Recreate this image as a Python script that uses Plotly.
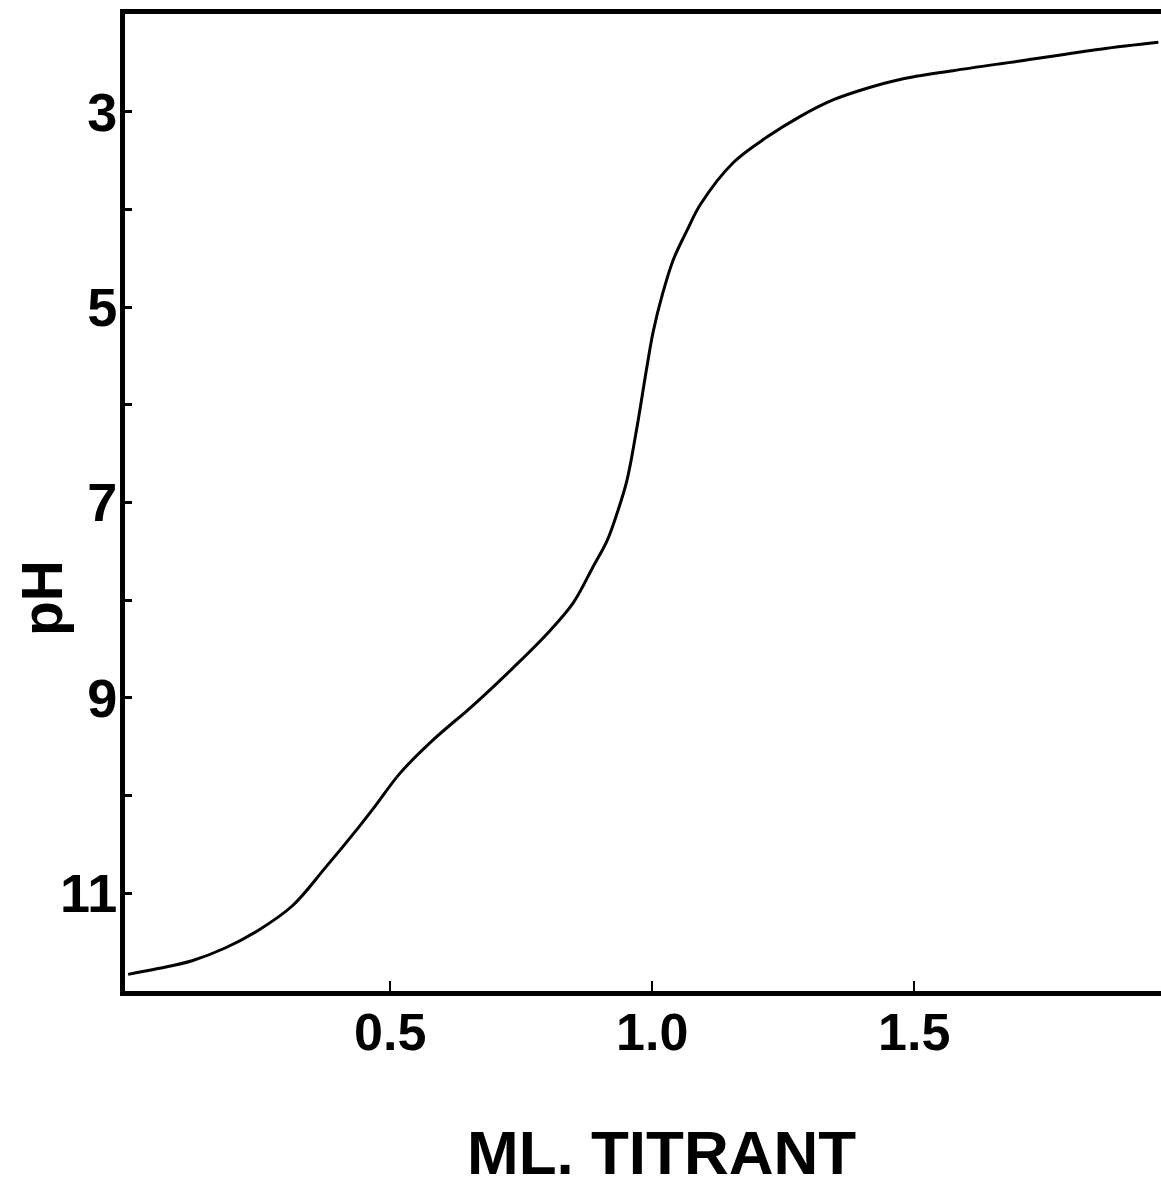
import plotly.graph_objects as go

# Titration curve
ml_titrant = [0.0, 0.057, 0.122, 0.185, 0.248, 0.313, 0.376, 0.439, 0.471, 0.519,
              0.582, 0.647, 0.672, 0.735, 0.800, 0.849, 0.887, 0.914, 0.933, 0.952,
              0.971, 0.990, 1.002, 1.019, 1.040, 1.067, 1.092,
              1.155, 1.219, 1.282, 1.345, 1.410, 1.473, 1.574, 1.702, 1.855, 1.966]
ph_values = [11.83, 11.77, 11.69, 11.56, 11.38, 11.13, 10.74, 10.33, 10.11, 9.77,
             9.43, 9.13, 9.01, 8.69, 8.34, 8.03, 7.66, 7.39, 7.11, 6.77,
             6.23, 5.61, 5.25, 4.88, 4.52, 4.21, 3.95,
             3.52, 3.26, 3.05, 2.88, 2.76, 2.67, 2.58, 2.48, 2.36, 2.29]

y_tick_vals = [3, 4, 5, 6, 7, 8, 9, 10, 11]
y_tick_text = ["3", "", "5", "", "7", "", "9", "", "11"]
x_tick_vals = [0.5, 1.0, 1.5]
x_tick_text = ["0.5", "1.0", "1.5"]

FONT = "Liberation Sans, Arial, sans-serif"

fig = go.Figure()
fig.add_trace(go.Scatter(
    x=ml_titrant, y=ph_values, mode="lines",
    line=dict(color="black", width=3, shape="spline", smoothing=1.0),
    showlegend=False, hoverinfo="skip",
))

fig.update_layout(
    width=1161, height=1188,
    margin=dict(l=125, r=0, t=14, b=197, pad=0),
    paper_bgcolor="white", plot_bgcolor="white",
    showlegend=False,
    font=dict(family=FONT, color="black"),
)

fig.update_xaxes(
    range=[-0.006, 1.971],
    showgrid=False, zeroline=False,
    showline=True, linecolor="black", linewidth=5, mirror=True,
    ticks="inside", ticklen=10, tickwidth=2, tickcolor="black",
    tickvals=x_tick_vals, ticktext=x_tick_text,
    tickfont=dict(family=FONT, size=52, color="black", weight="bold"),
    ticklabelstandoff=-8,
)
fig.update_yaxes(
    range=[12, 2],
    showgrid=False, zeroline=False,
    showline=True, linecolor="black", linewidth=5, mirror=False,
    ticks="inside", ticklen=7, tickwidth=3, tickcolor="black",
    tickvals=y_tick_vals, ticktext=y_tick_text,
    tickfont=dict(family=FONT, size=54, color="black", weight="bold"),
    ticklabelstandoff=-8,
)

fig.add_annotation(
    text="ML. TITRANT", xref="paper", yref="paper",
    x=(661 - 125) / (1161 - 125), y=-(1152 - 991) / (991 - 14),
    xanchor="center", yanchor="middle", showarrow=False,
    font=dict(family=FONT, size=62, color="black", weight="bold"),
)
fig.add_annotation(
    text="pH", xref="paper", yref="paper",
    x=-(125 - 42) / (1161 - 125), y=(991 - 598) / (991 - 14),
    xanchor="center", yanchor="middle", showarrow=False, textangle=-90,
    font=dict(family=FONT, size=57, color="black", weight="bold"),
)

fig.write_html("out.html")
